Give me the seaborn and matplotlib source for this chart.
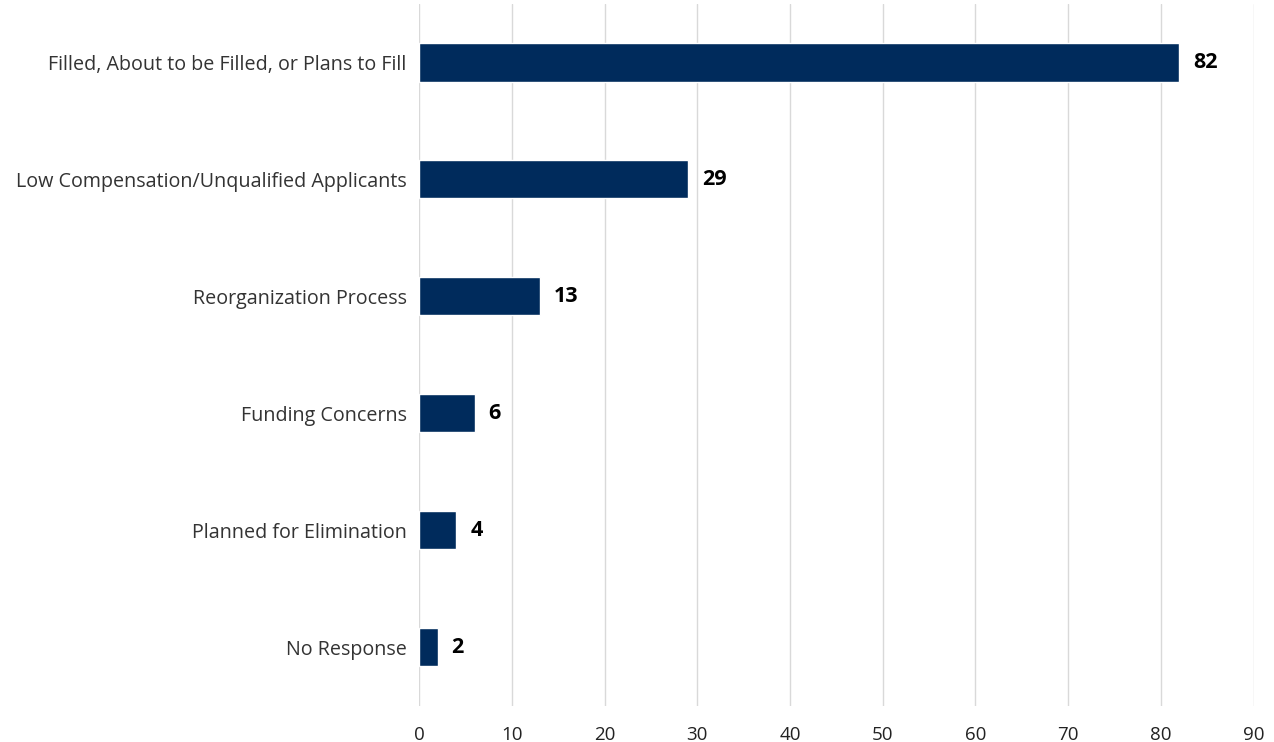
import pandas as pd
import matplotlib.pyplot as plt
import seaborn as sns

# Dữ liệu
categories = [
    "Filled, About to be Filled, or Plans to Fill",
    "Low Compensation/Unqualified Applicants",
    "Reorganization Process",
    "Funding Concerns",
    "Planned for Elimination",
    "No Response",
]
counts = [82, 29, 13, 6, 4, 2]
x_ticks = [0, 10, 20, 30, 40, 50, 60, 70, 80, 90]

df = pd.DataFrame({"Reason": categories, "Count": counts})

sns.set_theme(style="white")
plt.rcParams["font.family"] = ["Open Sans", "DejaVu Sans"]

fig = plt.figure(figsize=(12.74, 7.42), dpi=100)
ax = fig.add_axes([0.329, 0.049, 0.655, 0.946])

sns.barplot(data=df, y="Reason", x="Count", color="#002B5C", width=0.33,
            saturation=1, ax=ax, zorder=3)

for i, v in enumerate(counts):
    ax.text(v + 1.5, i, str(v), va="center", ha="left",
            fontsize=15.5, fontweight="bold", color="black")

ax.set_xlim(0, 90)
ax.set_xticks(x_ticks)
ax.grid(axis="x", color="#d9d9d9", linewidth=1, zorder=0)
ax.grid(axis="y", visible=False)
for s in ax.spines.values():
    s.set_visible(False)
ax.set_xlabel("")
ax.set_ylabel("")
ax.tick_params(axis="x", labelsize=13.5, pad=15, length=0, colors="#222222")
ax.tick_params(axis="y", labelsize=14.2, pad=9, length=0, colors="#333333")

fig.savefig("out.png", dpi=100)
